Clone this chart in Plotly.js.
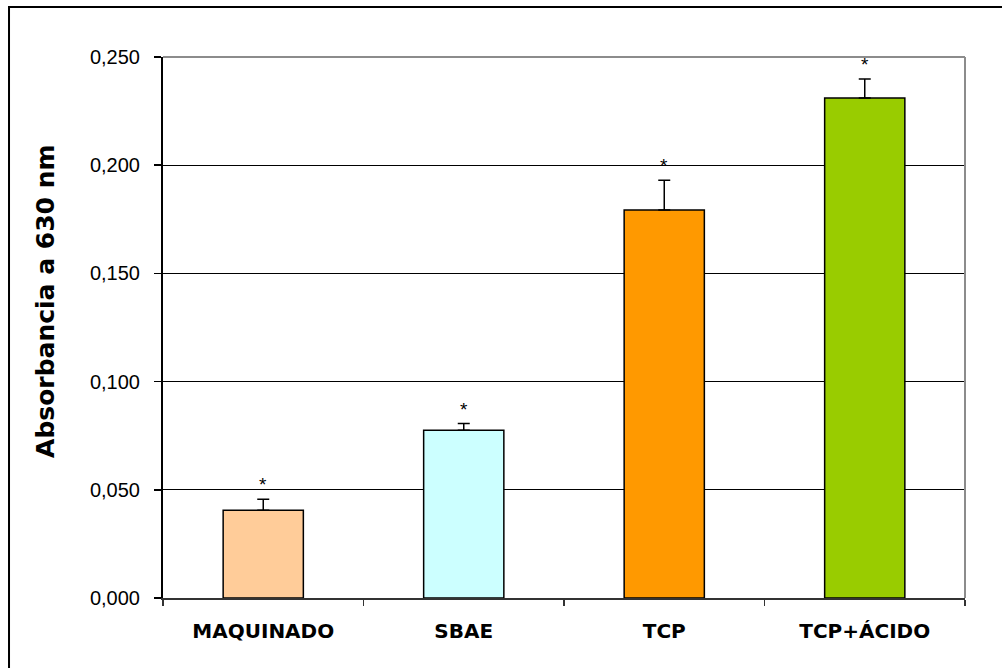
<!DOCTYPE html>
<html>
<head>
<meta charset="utf-8">
<script src="https://cdn.plot.ly/plotly-3.0.1.min.js"></script>
<style>
  html, body { margin: 0; padding: 0; background: #ffffff; }
  #chart { width: 1002px; height: 668px; }
</style>
</head>
<body>
<div id="chart"></div>
<script>
// Absorbance at 630 nm by surface treatment
const categories = ['MAQUINADO', 'SBAE', 'TCP', 'TCP+ÁCIDO'];
const absorbance = [0.0406, 0.0775, 0.1793, 0.2310];
const errorPlus = [0.0050, 0.0031, 0.0137, 0.0088];
const barColors = ['#FFCC99', '#CCFFFF', '#FF9900', '#99CC00'];
const yTicks = [0, 0.05, 0.10, 0.15, 0.20, 0.25];
const yTitle = 'Absorbancia a 630 nm';

const trace = {
  type: 'bar',
  x: categories,
  y: absorbance,
  width: 0.4,
  marker: {
    color: barColors,
    line: { color: '#000000', width: 1.5 }
  },
  error_y: {
    type: 'data',
    symmetric: false,
    array: errorPlus,
    arrayminus: categories.map(() => 0),
    color: '#000000',
    thickness: 1.5,
    width: 6
  },
  hoverinfo: 'x+y'
};

// significance markers above each error bar
const stars = categories.map((c, i) => ({
  x: c,
  y: absorbance[i] + errorPlus[i],
  xref: 'x',
  yref: 'y',
  text: '*',
  showarrow: false,
  yanchor: 'bottom',
  yshift: 2,
  font: { family: 'Liberation Sans, Arial, sans-serif', size: 19, color: '#000000' }
}));

// vertical axis title, placed by hand so it sits slightly above centre
const titleNote = {
  xref: 'paper', yref: 'paper',
  x: -0.1466, y: 0.548,
  xanchor: 'center', yanchor: 'middle',
  textangle: -90,
  showarrow: false,
  text: yTitle,
  font: { family: 'DejaVu Sans, sans-serif', size: 25, color: '#000000', weight: 'bold' }
};

const layout = {
  width: 1002,
  height: 668,
  margin: { l: 163, r: 37, t: 57, b: 70 },
  paper_bgcolor: '#ffffff',
  plot_bgcolor: '#ffffff',
  separators: ',.',
  showlegend: false,
  bargap: 0.6,
  xaxis: {
    type: 'category',
    tickson: 'boundaries',
    ticks: 'outside',
    ticklen: 6,
    tickcolor: '#333333',
    tickwidth: 1.5,
    showline: true,
    linecolor: '#333333',
    linewidth: 2,
    showgrid: false,
    ticklabelstandoff: 14,
    tickfont: { family: 'DejaVu Sans, sans-serif', size: 20, color: '#000000', weight: 'bold' }
  },
  yaxis: {
    range: [0, 0.25],
    tickvals: yTicks,
    tickformat: '.3f',
    ticks: 'outside',
    ticklen: 7,
    tickcolor: '#000000',
    tickwidth: 1.5,
    showline: true,
    linecolor: '#000000',
    linewidth: 2,
    showgrid: true,
    gridcolor: '#000000',
    gridwidth: 1.2,
    zeroline: false,
    ticklabelstandoff: 10,
    tickfont: { family: 'Liberation Sans, Arial, sans-serif', size: 20, color: '#000000' }
  },
  annotations: stars.concat([titleNote]),
  shapes: [
    // gray frame on the top and right of the plotting area
    {
      type: 'line', xref: 'paper', yref: 'paper',
      x0: 0, x1: 1, y0: 1, y1: 1,
      line: { color: '#8c8c8c', width: 2 }
    },
    {
      type: 'line', xref: 'paper', yref: 'paper',
      x0: 1, x1: 1, y0: 0, y1: 1,
      line: { color: '#8c8c8c', width: 2 }
    },
    // outer chart border (runs past the right and bottom edges)
    {
      type: 'rect', xref: 'paper', yref: 'paper',
      x0: -0.1920, x1: 1.10, y0: -0.20, y1: 1.0924,
      line: { color: '#000000', width: 2 },
      fillcolor: 'rgba(0,0,0,0)'
    }
  ]
};

Plotly.newPlot('chart', [trace], layout, { displayModeBar: false, staticPlot: true });
</script>
</body>
</html>
